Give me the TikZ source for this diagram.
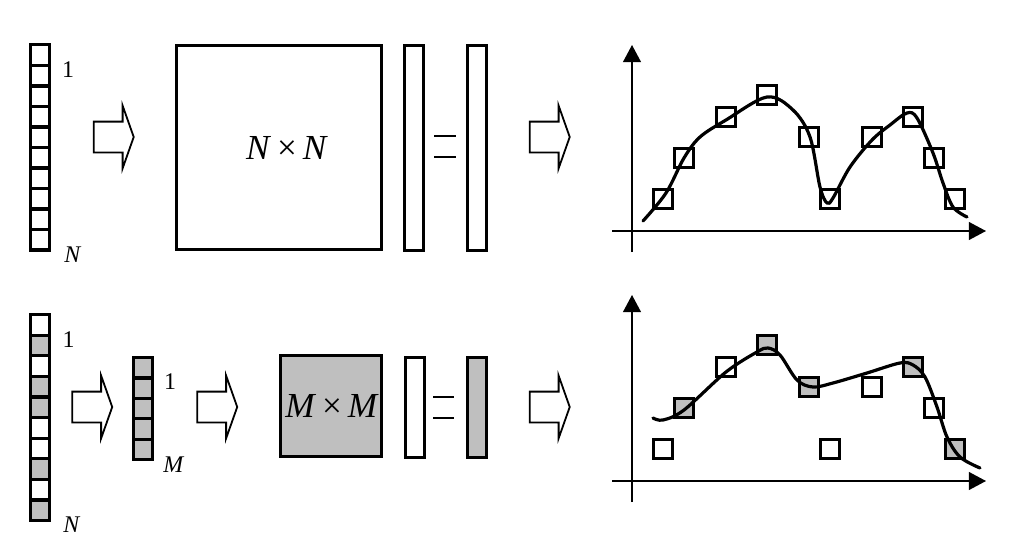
\documentclass[tikz,border=0pt]{standalone}
\usepackage{fontspec}
\setmainfont{Liberation Serif}
\usetikzlibrary{arrows.meta,shapes.arrows}
\colorlet{shade}{black!25}

\begin{document}
\begin{tikzpicture}[x=0.25mm, y=-0.25mm,
    cell/.style={rectangle, draw, line width=0.8mm, inner sep=0pt, outer sep=0pt,
      minimum width=4.7mm, minimum height=5.13mm},
    mat/.style={rectangle, draw, line width=0.75mm, inner sep=0pt, outer sep=0pt},
    bigarr/.style={single arrow, draw, line width=0.45mm, inner xsep=0pt, inner ysep=3.625mm,
      minimum height=10mm, single arrow head extend=4mm, single arrow tip angle=141},
    lbl/.style={font=\fontsize{17}{19}\selectfont, inner sep=0pt},
    prod/.style={font=\fontsize{25}{28}\selectfont, inner sep=0pt},
    axis/.style={line width=0.35mm, -{Triangle[width=4.5mm, length=4.3mm]}},
    sample/.style={rectangle, draw, line width=0.75mm, minimum size=4.75mm, inner sep=0pt},
    curve/.style={line width=0.8mm, line join=round, line cap=round}
  ]
    \useasboundingbox (0,0) rectangle (1023,540);

    % Full system: N samples
    \foreach \i in {1,...,10}
      \node[cell] (u\i) at (40,{44.9+20.5*(\i-0.5)}) {};
    \node[lbl] (u-first) at (68,70) {1};
    \node[lbl] (u-last)  at (73,255) {\textit{N}};

    \node[bigarr] (ua1) at (111,137) {};

    \node[mat, minimum width=51.25mm, minimum height=51mm] (A) at (279,147.5) {};
    \node[prod] (A-txt) at (287,148) {\textit{N}\,×\,\textit{N}};
    \node[mat, minimum width=4.75mm, minimum height=51.25mm] (x) at (414,148) {};
    \node[mat, minimum width=4.75mm, minimum height=51.25mm] (b) at (476.5,148) {};
    \draw[line width=0.5mm] (434,136) -- (456,136) (434,157) -- (456,157);

    \node[bigarr] (ua2) at (547,137) {};

    % Top plot
    \coordinate (yo1) at (632,252);
    \coordinate (yt1) at (632,45);
    \coordinate (xo1) at (612,231);
    \coordinate (xt1) at (986,231);
    \draw[axis] (yo1) -- (yt1);
    \draw[axis] (xo1) -- (xt1);
    \foreach \px/\py [count=\k] in {663/199, 684/158, 726/117, 767/95, 809/137,
                                    830/199, 872/137, 913/117, 934/158, 955/199}
      \node[sample, fill=white] (p\k) at (\px,\py) {};
    \draw[curve] plot[smooth, tension=0.55] coordinates {
      (643,221) (666,193) (684,158) (700,137) (726,120) (767,97) (793,110)
      (810,137) (820,187) (827,203) (833,198) (850,167) (872,140) (890,125)
      (907,113) (917,118) (933,153) (943,183) (953,207) (967,217)};

    % Reduced system: M of N samples
    \foreach \i/\f in {1/white, 2/shade, 3/white, 4/shade, 5/shade,
                       6/white, 7/white, 8/shade, 9/white, 10/shade}
      \node[cell, fill=\f, minimum height=5.15mm] (v\i) at (40,{314.6+20.6*(\i-0.5)}) {};
    \node[lbl] (v-first) at (68.5,340) {1};
    \node[lbl] (v-last)  at (72,525) {\textit{N}};

    \node[bigarr] (va1) at (89.5,407) {};

    \foreach \i in {1,...,5}
      \node[cell, fill=shade, minimum width=4.75mm, minimum height=5.1mm] (w\i) at (143,{357.6+20.4*(\i-0.5)}) {};
    \node[lbl] (w-first) at (170,382) {1};
    \node[lbl] (w-last)  at (174,465) {\textit{M}};

    \node[bigarr] (va2) at (214.5,407) {};

    \node[mat, fill=shade, minimum size=25.25mm] (B) at (331,406) {};
    \node[prod] (B-txt) at (332,406) {\textit{M}\,×\,\textit{M}};
    \node[mat, minimum width=4.75mm, minimum height=25mm] (y) at (414.5,407.5) {};
    \node[mat, fill=shade, minimum width=4.75mm, minimum height=25mm] (c) at (476.5,407.5) {};
    \draw[line width=0.5mm] (433,397) -- (454,397) (433,418) -- (454,418);

    \node[bigarr] (va3) at (547,407) {};

    % Bottom plot
    \coordinate (yo2) at (632,502);
    \coordinate (yt2) at (632,295);
    \coordinate (xo2) at (612,481);
    \coordinate (xt2) at (986,481);
    \draw[axis] (yo2) -- (yt2);
    \draw[axis] (xo2) -- (xt2);
    \foreach \px/\py/\f [count=\k] in {663/449/white, 684/408/shade, 726/367/white,
                                       767/345/shade, 809/387/shade, 830/449/white,
                                       872/387/white, 913/367/shade, 934/408/white,
                                       955/449/shade}
      \node[sample, fill=\f] (q\k) at (\px,\py) {};
    \draw[curve] plot[smooth, tension=0.55] coordinates {
      (653,418) (663,420) (684,410) (726,372) (757,352) (768,348) (780,355)
      (797,380) (813,387) (833,383) (867,373) (900,363) (913,365) (925,377)
      (937,407) (947,437) (960,457) (980,468)};
  \end{tikzpicture}
\end{document}
